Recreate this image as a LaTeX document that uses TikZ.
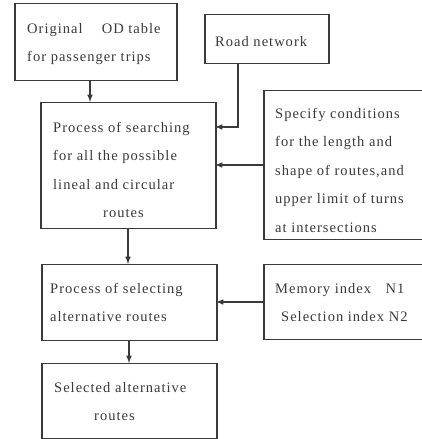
\documentclass[tikz,border=0pt]{standalone}
\usepackage{fontspec}
\setmainfont{Liberation Serif}
\newfontfamily\boxfont[LetterSpace=7]{Liberation Serif}
\definecolor{ink}{HTML}{3A3A3A}
\begin{document}
\begin{tikzpicture}[x=1pt,y=1pt,
  box/.style={draw=ink, line width=1.5pt, inner sep=0pt, anchor=north west},
  txt/.style={anchor=north west, inner sep=0pt, align=left, text=ink,
    font=\boxfont\fontsize{14.5}{28.5}\selectfont},
  conn/.style={draw=ink, line width=1.5pt, -latex}]
\fill[white] (0,0) rectangle (421,439);
\useasboundingbox (0,0) rectangle (421,439);
% boxes
\node[box, minimum width=162pt, minimum height=77pt] (od) at (14,436) {};
\node[box, minimum width=124pt, minimum height=49pt] (road) at (204,425) {};
\node[box, minimum width=175pt, minimum height=126pt] (search) at (40,337) {};
\node[box, minimum width=170pt, minimum height=149pt] (spec) at (263,349) {};
\node[box, minimum width=175pt, minimum height=76pt] (sel) at (41,175) {};
\node[box, minimum width=170pt, minimum height=75pt] (mem) at (263,175) {};
\node[box, minimum width=175pt, minimum height=75pt] (out) at (41,76) {};
% texts
\node[txt] (tod) at (27,416) {Original\quad\ OD table\\for passenger trips};
\node[txt] (troad) at (215,403) {Road network};
\node[txt] (tsearch) at (53,317) {Process of searching\\for all the possible\\lineal and circular\\\hspace*{50pt}routes};
\node[txt] (tspec) at (275,331) {Specify conditions\\for the length and\\shape of routes,and\\upper limit of turns\\at intersections};
\node[txt] (tsel) at (50,156) {Process of selecting\\alternative routes};
\node[txt] (tmem) at (275,156) {Memory index\quad N1\\\hspace*{6pt}Selection index N2};
\node[txt] (tout) at (54,57) {Selected alternative\\\hspace*{40pt}routes};
% connector end points
\coordinate (odb) at (90,359);
\coordinate (roadb) at (238,376);
\coordinate (r1) at (215,312);
\coordinate (s1) at (263,274);
\coordinate (s2) at (215,274);
\coordinate (p1) at (128,211);
\coordinate (p2) at (128,175);
\coordinate (m1) at (263,137);
\coordinate (m2) at (216,137);
\coordinate (q1) at (129,99);
\coordinate (q2) at (129,76);
\draw[conn] (odb) -- (odb |- search.north);
\draw[conn] (roadb) |- (r1);
\draw[conn] (s1) -- (s2);
\draw[conn] (p1) -- (p2);
\draw[conn] (m1) -- (m2);
\draw[conn] (q1) -- (q2);
\end{tikzpicture}
\end{document}
